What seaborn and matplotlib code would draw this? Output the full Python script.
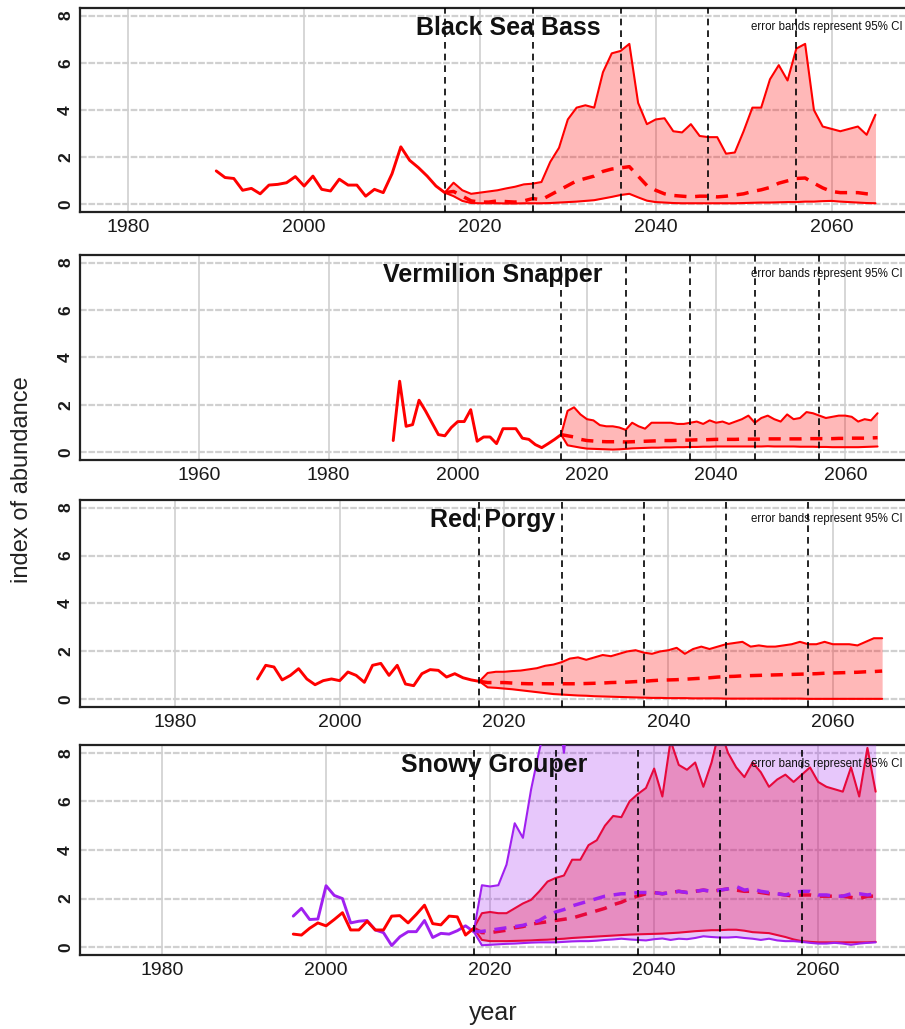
import matplotlib
matplotlib.use("Agg")
import matplotlib.pyplot as plt
import numpy as np
import pandas as pd
import seaborn as sns
from matplotlib import font_manager

# ---- data -------------------------------------------------------------
bsb_hist_years = np.arange(1990, 2017)
bsb_hist = [1.42, 1.14, 1.10, 0.60, 0.68, 0.45, 0.82, 0.85, 0.92, 1.18, 0.78, 1.20, 0.64, 0.57,
            1.07, 0.82, 0.82, 0.35, 0.64, 0.50, 1.30, 2.44, 1.87, 1.56, 1.20, 0.78, 0.50]
bsb_proj_years = np.arange(2016, 2066)
bsb_upper = [0.50, 0.92, 0.60, 0.45, 0.50, 0.55, 0.60, 0.68, 0.75, 0.85,
             0.88, 0.95, 1.80, 2.40, 3.60, 4.10, 4.20, 4.10, 5.60, 6.40,
             6.50, 6.80, 4.30, 3.40, 3.60, 3.65, 3.10, 3.05, 3.40, 2.90,
             2.85, 2.85, 2.15, 2.20, 3.10, 4.10, 4.10, 5.30, 5.90, 5.25,
             6.60, 6.80, 4.00, 3.30, 3.20, 3.10, 3.20, 3.30, 2.95, 3.80]
bsb_median = [0.50, 0.55, 0.35, 0.15, 0.10, 0.10, 0.15, 0.12, 0.10, 0.15,
              0.25, 0.20, 0.40, 0.60, 0.80, 1.00, 1.10, 1.20, 1.40, 1.50,
              1.55, 1.60, 1.20, 0.80, 0.60, 0.45, 0.38, 0.35, 0.32, 0.35,
              0.35, 0.32, 0.35, 0.40, 0.45, 0.55, 0.62, 0.72, 0.90, 1.00,
              1.10, 1.12, 0.90, 0.70, 0.55, 0.50, 0.50, 0.50, 0.45, 0.42]
bsb_lower = [0.50, 0.35, 0.15, 0.06, 0.05, 0.05, 0.05, 0.04, 0.04, 0.05,
             0.05, 0.05, 0.06, 0.08, 0.10, 0.12, 0.15, 0.18, 0.25, 0.32,
             0.40, 0.45, 0.30, 0.16, 0.10, 0.08, 0.06, 0.05, 0.05, 0.05,
             0.05, 0.05, 0.05, 0.05, 0.06, 0.07, 0.08, 0.08, 0.09, 0.10,
             0.10, 0.12, 0.12, 0.14, 0.15, 0.12, 0.10, 0.08, 0.06, 0.05]

vs_hist_years = np.arange(1990, 2017)
vs_hist = [0.50, 3.00, 1.10, 1.17, 2.20, 1.75, 1.25, 0.75, 0.70, 1.05, 1.30, 1.30, 1.80, 0.47,
           0.65, 0.65, 0.37, 1.00, 1.00, 1.00, 0.60, 0.55, 0.33, 0.20, 0.37, 0.55, 0.75]
vs_proj_years = np.arange(2016, 2066)
vs_upper = [0.75, 1.75, 1.90, 1.60, 1.40, 1.35, 1.15, 1.10, 1.10, 1.05,
            0.95, 1.25, 1.10, 1.00, 1.25, 1.25, 1.25, 1.25, 1.20, 1.20,
            1.25, 1.30, 1.20, 1.35, 1.25, 1.30, 1.20, 1.30, 1.40, 1.55,
            1.25, 1.45, 1.55, 1.40, 1.30, 1.60, 1.40, 1.45, 1.70, 1.65,
            1.55, 1.45, 1.50, 1.55, 1.55, 1.50, 1.30, 1.40, 1.35, 1.65]
vs_median = [0.75, 0.70, 0.65, 0.55, 0.50, 0.48, 0.46, 0.45, 0.45, 0.45,
             0.44, 0.45, 0.46, 0.47, 0.48, 0.49, 0.50, 0.50, 0.51, 0.52,
             0.52, 0.53, 0.53, 0.54, 0.55, 0.55, 0.55, 0.55, 0.56, 0.56,
             0.56, 0.56, 0.57, 0.57, 0.57, 0.57, 0.57, 0.57, 0.58, 0.58,
             0.58, 0.58, 0.58, 0.59, 0.59, 0.60, 0.60, 0.60, 0.61, 0.62]
vs_lower = [0.75, 0.30, 0.25, 0.20, 0.16, 0.15, 0.14, 0.13, 0.12, 0.13,
            0.15, 0.17, 0.18, 0.19, 0.20, 0.20, 0.21, 0.21, 0.22, 0.22,
            0.23, 0.23, 0.24, 0.24, 0.25, 0.25, 0.25, 0.25, 0.25, 0.25,
            0.25, 0.25, 0.26, 0.25, 0.25, 0.25, 0.25, 0.24, 0.24, 0.24,
            0.23, 0.23, 0.22, 0.22, 0.22, 0.22, 0.22, 0.23, 0.24, 0.25]

rp_hist_years = np.arange(1990, 2018)
rp_hist = [0.85, 1.42, 1.35, 0.81, 1.00, 1.28, 0.85, 0.61, 0.78, 0.85, 0.78, 1.14, 1.00, 0.71,
           1.42, 1.50, 1.00, 1.42, 0.64, 0.57, 1.07, 1.24, 1.21, 0.93, 1.07, 0.90, 0.81, 0.75]
rp_proj_years = np.arange(2017, 2067)
rp_upper = [0.75, 1.10, 1.15, 1.15, 1.18, 1.20, 1.25, 1.30, 1.40, 1.45,
            1.55, 1.70, 1.75, 1.65, 1.75, 1.85, 1.80, 1.90, 2.00, 2.05,
            1.95, 1.90, 2.00, 2.05, 2.15, 1.90, 2.10, 2.20, 2.10, 2.20,
            2.30, 2.35, 2.40, 2.20, 2.25, 2.20, 2.20, 2.25, 2.30, 2.40,
            2.30, 2.30, 2.40, 2.30, 2.30, 2.30, 2.25, 2.40, 2.55, 2.55]
rp_median = [0.75, 0.70, 0.70, 0.70, 0.68, 0.66, 0.65, 0.65, 0.65, 0.65,
             0.65, 0.65, 0.65, 0.66, 0.67, 0.68, 0.70, 0.71, 0.72, 0.74,
             0.75, 0.78, 0.80, 0.81, 0.82, 0.84, 0.86, 0.88, 0.90, 0.93,
             0.95, 0.96, 0.98, 0.99, 1.00, 1.01, 1.02, 1.03, 1.04, 1.05,
             1.06, 1.07, 1.09, 1.10, 1.11, 1.12, 1.13, 1.15, 1.16, 1.18]
rp_lower = [0.75, 0.50, 0.48, 0.45, 0.42, 0.38, 0.34, 0.30, 0.26, 0.22,
            0.20, 0.18, 0.16, 0.15, 0.13, 0.12, 0.11, 0.10, 0.09, 0.08,
            0.07, 0.06, 0.06, 0.05, 0.05, 0.05, 0.04, 0.04, 0.04, 0.04,
            0.03, 0.03, 0.03, 0.03, 0.03, 0.03, 0.03, 0.03, 0.03, 0.03,
            0.02, 0.02, 0.02, 0.02, 0.02, 0.02, 0.02, 0.02, 0.02, 0.02]

sg_hist_years = np.arange(1996, 2019)
sg_hist_red = [0.54, 0.50, 0.78, 1.00, 0.88, 1.14, 1.42, 0.71, 0.71, 1.07, 0.71, 0.71,
               1.28, 1.30, 1.00, 1.35, 1.73, 0.97, 0.92, 1.28, 1.25, 0.50, 0.78]
sg_hist_purple = [1.28, 1.60, 1.14, 1.16, 2.53, 2.13, 2.00, 1.00, 1.07, 1.10, 0.71, 0.60,
                  0.07, 0.43, 0.64, 0.64, 1.10, 0.40, 0.57, 0.54, 0.68, 0.88, 0.64]
sg_proj_years = np.arange(2018, 2068)
sg_red_upper = [0.78, 1.40, 1.45, 1.40, 1.40, 1.60, 1.80, 1.95, 2.30, 2.70,
                2.85, 2.95, 3.60, 3.60, 4.20, 4.40, 5.00, 5.40, 5.35, 6.00,
                6.30, 6.55, 7.35, 6.20, 8.50, 7.50, 7.30, 7.60, 6.60, 7.60,
                9.00, 8.00, 7.40, 7.00, 7.60, 7.20, 6.60, 6.90, 7.10, 6.80,
                7.10, 7.40, 6.80, 6.60, 6.50, 6.40, 7.40, 6.20, 8.20, 6.40]
sg_red_median = [0.78, 0.60, 0.60, 0.65, 0.70, 0.80, 0.85, 0.95, 1.00, 1.05,
                 1.10, 1.15, 1.20, 1.30, 1.40, 1.50, 1.60, 1.75, 1.85, 2.00,
                 2.10, 2.20, 2.25, 2.20, 2.25, 2.30, 2.25, 2.30, 2.35, 2.30,
                 2.35, 2.40, 2.35, 2.30, 2.30, 2.25, 2.20, 2.20, 2.15, 2.10,
                 2.15, 2.15, 2.10, 2.10, 2.10, 2.10, 2.05, 2.00, 2.10, 2.10]
sg_red_lower = [0.78, 0.30, 0.25, 0.25, 0.25, 0.26, 0.27, 0.28, 0.30, 0.31,
                0.33, 0.35, 0.38, 0.40, 0.42, 0.44, 0.46, 0.48, 0.50, 0.52,
                0.53, 0.54, 0.55, 0.56, 0.58, 0.60, 0.63, 0.66, 0.68, 0.70,
                0.70, 0.72, 0.72, 0.68, 0.62, 0.60, 0.58, 0.50, 0.42, 0.32,
                0.25, 0.22, 0.20, 0.20, 0.20, 0.20, 0.20, 0.20, 0.20, 0.22]
sg_purple_upper = [0.64, 2.55, 2.50, 2.55, 3.40, 5.10, 4.50, 6.50, 8.10, 9.50,
                   10.5, 8.00, 11.0, 12.0, 12.5, 13.0, 13.5, 14.0, 14.0, 14.5,
                   14.5, 15.0, 15.0, 15.0, 15.5, 15.5, 15.5, 16.0, 16.0, 16.0,
                   16.0, 16.0, 16.0, 16.0, 16.0, 16.0, 16.0, 16.0, 16.0, 16.0,
                   16.0, 16.0, 16.0, 16.0, 16.0, 16.0, 16.0, 16.0, 16.0, 16.0]
sg_purple_median = [0.64, 0.65, 0.70, 0.75, 0.80, 0.85, 0.90, 1.00, 1.10, 1.30,
                    1.45, 1.55, 1.70, 1.80, 1.90, 2.00, 2.10, 2.15, 2.20, 2.20,
                    2.25, 2.25, 2.25, 2.20, 2.25, 2.30, 2.25, 2.30, 2.35, 2.30,
                    2.35, 2.40, 2.50, 2.35, 2.40, 2.30, 2.25, 2.20, 2.15, 2.25,
                    2.30, 2.30, 2.15, 2.15, 2.10, 2.10, 2.20, 2.20, 2.15, 2.20]
sg_purple_lower = [0.64, 0.08, 0.10, 0.12, 0.14, 0.15, 0.17, 0.19, 0.20, 0.20,
                   0.20, 0.22, 0.24, 0.25, 0.25, 0.27, 0.30, 0.32, 0.35, 0.32,
                   0.30, 0.28, 0.33, 0.36, 0.30, 0.35, 0.33, 0.38, 0.45, 0.42,
                   0.40, 0.40, 0.42, 0.38, 0.35, 0.30, 0.35, 0.28, 0.25, 0.25,
                   0.22, 0.18, 0.15, 0.15, 0.18, 0.15, 0.10, 0.15, 0.18, 0.20]

species = ["Black Sea Bass", "Vermilion Snapper", "Red Porgy", "Snowy Grouper"]
decade_marks = [
    [2016, 2026, 2036, 2046, 2056],
    [2016, 2026, 2036, 2046, 2056],
    [2017, 2027, 2037, 2047, 2057],
    [2018, 2028, 2038, 2048, 2058],
]
x_ticks = [
    [1980, 2000, 2020, 2040, 2060],
    [1960, 1980, 2000, 2020, 2040, 2060],
    [1980, 2000, 2020, 2040, 2060],
    [1980, 2000, 2020, 2040, 2060],
]
x_limits = [(1974.5, 2069.5), (1941.5, 2070.8), (1968.4, 2070.0), (1970.0, 2071.8)]
y_ticks = [0, 2, 4, 6, 8]

RED = "#FF0000"
PURPLE = "#A020F0"

# ---- style --------------------------------------------------------------
sns.set_style("white")
names = {f.name for f in font_manager.fontManager.ttflist}
NARROW = "Liberation Sans Narrow" if "Liberation Sans Narrow" in names else "Liberation Sans"
plt.rcParams["font.family"] = [NARROW, "DejaVu Sans"]

W, H = 905, 1029
fig = plt.figure(figsize=(W / 100, H / 100), dpi=100)

# panel frames in pixels (top, bottom)
frames = [(8, 212), (255, 460), (500, 707), (745, 955)]
title_x = [508, 493, 493, 494]
left_px, right_px = 80, 915


def add_projection(ax, years, upper, median, lower, color, alpha, z=4):
    ax.fill_between(years, lower, upper, color=color, alpha=alpha, lw=0, zorder=2)
    sns.lineplot(x=years, y=upper, ax=ax, color=color, lw=1.5, zorder=z)
    sns.lineplot(x=years, y=lower, ax=ax, color=color, lw=1.5, zorder=z)
    sns.lineplot(x=years, y=median, ax=ax, color=color, lw=2.5, zorder=z,
                 linestyle=(0, (3.5, 2.5)))


axes = []
for i, (top, bot) in enumerate(frames):
    ax = fig.add_axes([left_px / W, 1 - bot / H, (right_px - left_px) / W, (bot - top) / H])
    axes.append(ax)
    ax.set_xlim(*x_limits[i])
    ax.set_ylim(-0.32, 8.32)
    ax.set_xticks(x_ticks[i])
    ax.set_yticks(y_ticks)
    ax.xaxis.grid(True, color="#d3d3d3", lw=1.3, zorder=0)
    ax.yaxis.grid(True, color="#d0d0d0", lw=1.6, linestyle=(0, (3, 0.8)), zorder=0)
    ax.set_axisbelow(True)
    for side in ["left", "bottom", "top"]:
        ax.spines[side].set_color("#222222")
        ax.spines[side].set_linewidth(1.6)
    ax.spines["right"].set_visible(False)
    ax.tick_params(axis="x", length=3, width=1, color="#222222", labelsize=14, pad=2,
                   labelcolor="#1a1a1a")
    ax.tick_params(axis="y", length=3, width=1, color="#222222", labelsize=12.5, pad=2,
                   labelrotation=90, labelcolor="#1a1a1a")
    for lab in ax.get_yticklabels():
        lab.set_fontweight("bold")
        lab.set_va("center")
        lab.set_family(["Liberation Sans", "DejaVu Sans"])
    for yr in decade_marks[i]:
        ax.axvline(yr, color="black", lw=1.2, linestyle=(0, (4, 3)), zorder=5)
    fig.text(title_x[i] / W, 1 - (top + 20) / H, species[i], ha="center", va="center",
             fontsize=18, fontweight="bold", color="#111111")
    fig.text(903 / W, 1 - (top + 19) / H, "error bands represent 95% CI", ha="right",
             va="center", fontsize=8.3, color="#111111")

# Black Sea Bass
ax = axes[0]
add_projection(ax, bsb_proj_years, bsb_upper, bsb_median, bsb_lower, RED, 0.28)
sns.lineplot(x=bsb_hist_years, y=bsb_hist, ax=ax, color=RED, lw=2.1, zorder=4)

# Vermilion Snapper
ax = axes[1]
add_projection(ax, vs_proj_years, vs_upper, vs_median, vs_lower, RED, 0.28)
sns.lineplot(x=vs_hist_years, y=vs_hist, ax=ax, color=RED, lw=2.1, zorder=4)

# Red Porgy
ax = axes[2]
add_projection(ax, rp_proj_years, rp_upper, rp_median, rp_lower, RED, 0.28)
sns.lineplot(x=rp_hist_years, y=rp_hist, ax=ax, color=RED, lw=2.1, zorder=4)

# Snowy Grouper (two model runs; purple band drawn over the red one)
ax = axes[3]
add_projection(ax, sg_proj_years, sg_red_upper, sg_red_median, sg_red_lower, RED, 0.30, z=2.5)
ax.fill_between(sg_proj_years, sg_purple_lower, sg_purple_upper, color=PURPLE, alpha=0.25,
                lw=0, zorder=3)
sns.lineplot(x=sg_proj_years, y=sg_purple_upper, ax=ax, color=PURPLE, lw=1.5, zorder=3.5)
sns.lineplot(x=sg_proj_years, y=sg_purple_lower, ax=ax, color=PURPLE, lw=1.5, zorder=3.5)
sns.lineplot(x=sg_proj_years, y=sg_purple_median, ax=ax, color=PURPLE, lw=2.5, zorder=3.5,
             linestyle=(0, (3.5, 2.5)))
sns.lineplot(x=sg_hist_years, y=sg_hist_purple, ax=ax, color=PURPLE, lw=2.1, zorder=4)
sns.lineplot(x=sg_hist_years, y=sg_hist_red, ax=ax, color=RED, lw=2.1, zorder=4.2)

for ax in axes:
    ax.set_xlabel("")
    ax.set_ylabel("")

fig.text(22 / W, 1 - 480 / H, "index of abundance", rotation=90, ha="center", va="center",
         fontsize=17, family=["Liberation Sans", "DejaVu Sans"], color="#222222")
fig.text(493 / W, 1 - 1013 / H, "year", ha="center", va="center", fontsize=18,
         color="#222222")

fig.savefig("out.png", dpi=100)
